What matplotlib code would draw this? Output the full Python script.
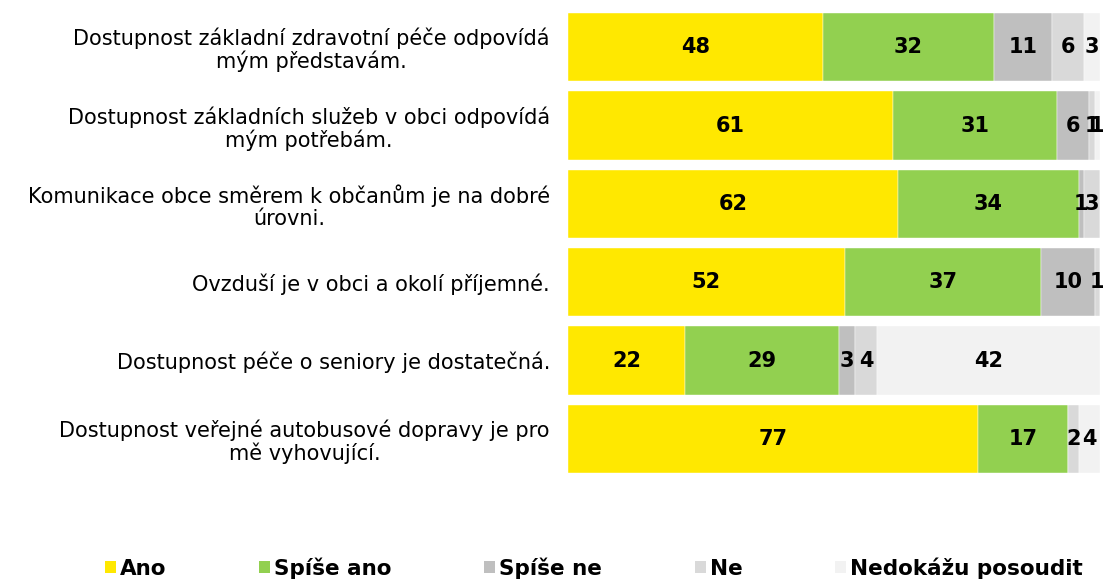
import numpy as np
import matplotlib.pyplot as plt
from matplotlib.patches import Patch

categories = [
    "Dostupnost základní zdravotní péče odpovídá\nmým představám.",
    "Dostupnost základních služeb v obci odpovídá\nmým potřebám.",
    "Komunikace obce směrem k občanům je na dobré\núrovni.",
    "Ovzduší je v obci a okolí příjemné.",
    "Dostupnost péče o seniory je dostatečná.",
    "Dostupnost veřejné autobusové dopravy je pro\nmě vyhovující.",
]
series_names = ["Ano", "Spíše ano", "Spíše ne", "Ne", "Nedokážu posoudit"]
ano = [48, 61, 62, 52, 22, 77]
spise_ano = [32, 31, 34, 37, 29, 17]
spise_ne = [11, 6, 1, 10, 3, 0]
ne = [6, 1, 3, 1, 4, 2]
nedokazu = [3, 1, 0, 0, 42, 4]

colors = ["#FFE800", "#92D050", "#BFBFBF", "#D9D9D9", "#F2F2F2"]

plt.rcParams['font.family'] = ['DejaVu Sans']

fig = plt.figure(figsize=(11.05, 5.79), dpi=100)
ax = fig.add_axes([568 / 1105, 1 - 478 / 579, 532 / 1105, 470 / 579])

y = np.arange(len(categories))
left = np.zeros(len(categories))
for name, vals, col in zip(series_names, [ano, spise_ano, spise_ne, ne, nedokazu], colors):
    vals = np.array(vals, dtype=float)
    bars = ax.barh(y, vals, left=left, height=0.87, color=col, label=name,
                   edgecolor="white", linewidth=0.3)
    for b, v in zip(bars, vals):
        if v > 0:
            ax.text(b.get_x() + b.get_width() / 2, b.get_y() + b.get_height() / 2,
                    f"{int(v)}", ha="center", va="center", fontsize=15,
                    fontweight="bold", color="black")
    left += vals

ax.set_xlim(0, 100)
ax.set_ylim(5.5, -0.5)
ax.set_yticks(y)
ax.set_yticklabels(categories, fontsize=15, multialignment="center", linespacing=1.1)
ax.tick_params(axis="y", length=0, pad=13)
ax.set_xticks([])
for s in ax.spines.values():
    s.set_visible(False)

handles = [Patch(facecolor=c, edgecolor="none") for c in colors]
fig.legend(handles, series_names, loc="center", bbox_to_anchor=(594 / 1105, 1 - 568 / 579),
           ncol=5, frameon=False, handlelength=0.5, handleheight=0.5, handletextpad=0.2,
           columnspacing=4.3, prop={"weight": "bold", "size": 15.5})

fig.savefig("out.png", dpi=100)
